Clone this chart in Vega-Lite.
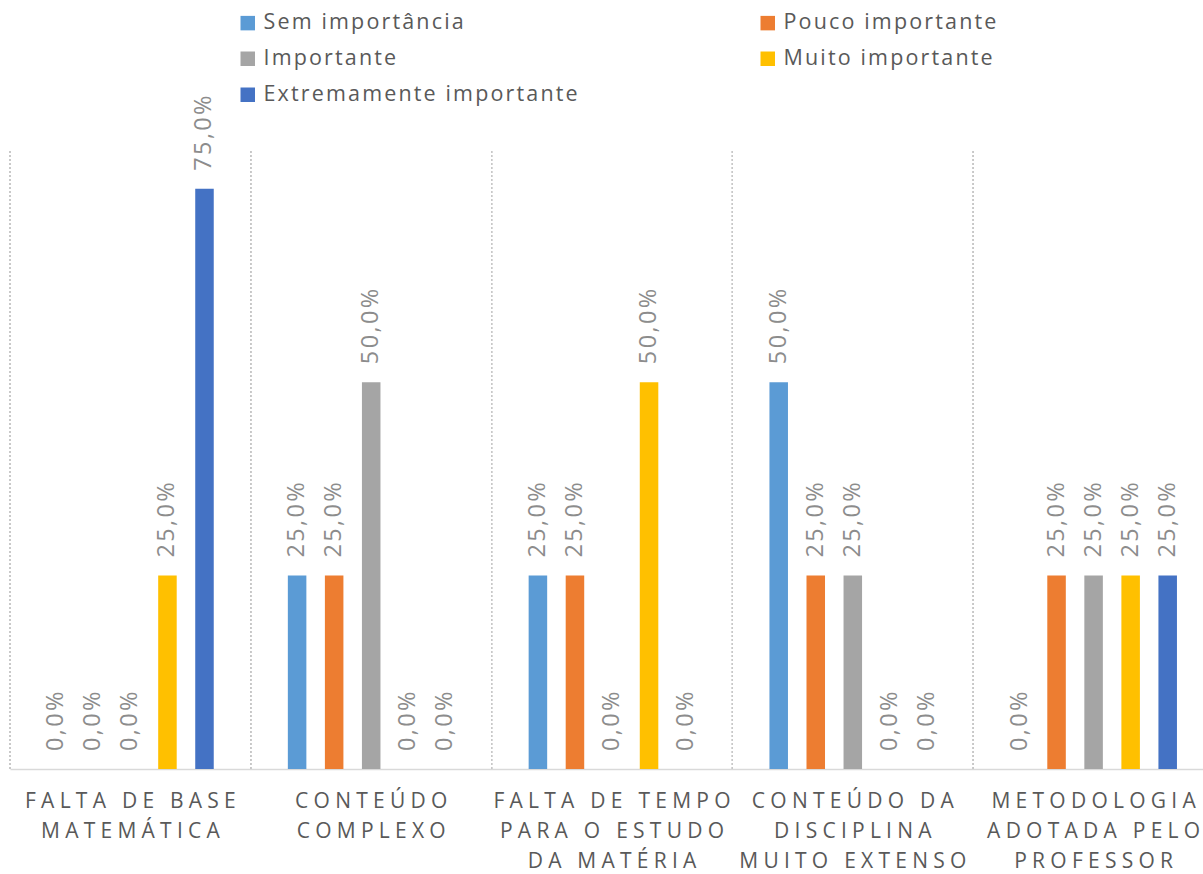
{
  "$schema": "https://vega.github.io/schema/vega-lite/v6.json",
  "autosize": "none",
  "width": 1204,
  "height": 619,
  "padding": {"left": 10, "top": 150, "right": -11, "bottom": 105},
  "background": "white",
  "config": {
    "view": {"stroke": null},
    "font": "Open Sans"
  },
  "data": {
    "values": [
      {"cat": "FALTA DE BASE\nMATEMÁTICA", "level": "Sem importância", "value": 0},
      {"cat": "FALTA DE BASE\nMATEMÁTICA", "level": "Pouco importante", "value": 0},
      {"cat": "FALTA DE BASE\nMATEMÁTICA", "level": "Importante", "value": 0},
      {"cat": "FALTA DE BASE\nMATEMÁTICA", "level": "Muito importante", "value": 0.25},
      {"cat": "FALTA DE BASE\nMATEMÁTICA", "level": "Extremamente importante", "value": 0.75},
      {"cat": "CONTEÚDO\nCOMPLEXO", "level": "Sem importância", "value": 0.25},
      {"cat": "CONTEÚDO\nCOMPLEXO", "level": "Pouco importante", "value": 0.25},
      {"cat": "CONTEÚDO\nCOMPLEXO", "level": "Importante", "value": 0.5},
      {"cat": "CONTEÚDO\nCOMPLEXO", "level": "Muito importante", "value": 0},
      {"cat": "CONTEÚDO\nCOMPLEXO", "level": "Extremamente importante", "value": 0},
      {"cat": "FALTA DE TEMPO\nPARA O ESTUDO\nDA MATÉRIA", "level": "Sem importância", "value": 0.25},
      {"cat": "FALTA DE TEMPO\nPARA O ESTUDO\nDA MATÉRIA", "level": "Pouco importante", "value": 0.25},
      {"cat": "FALTA DE TEMPO\nPARA O ESTUDO\nDA MATÉRIA", "level": "Importante", "value": 0},
      {"cat": "FALTA DE TEMPO\nPARA O ESTUDO\nDA MATÉRIA", "level": "Muito importante", "value": 0.5},
      {"cat": "FALTA DE TEMPO\nPARA O ESTUDO\nDA MATÉRIA", "level": "Extremamente importante", "value": 0},
      {"cat": "CONTEÚDO DA\nDISCIPLINA\nMUITO EXTENSO", "level": "Sem importância", "value": 0.5},
      {"cat": "CONTEÚDO DA\nDISCIPLINA\nMUITO EXTENSO", "level": "Pouco importante", "value": 0.25},
      {"cat": "CONTEÚDO DA\nDISCIPLINA\nMUITO EXTENSO", "level": "Importante", "value": 0.25},
      {"cat": "CONTEÚDO DA\nDISCIPLINA\nMUITO EXTENSO", "level": "Muito importante", "value": 0},
      {"cat": "CONTEÚDO DA\nDISCIPLINA\nMUITO EXTENSO", "level": "Extremamente importante", "value": 0},
      {"cat": "METODOLOGIA\nADOTADA PELO\nPROFESSOR", "level": "Sem importância", "value": 0},
      {"cat": "METODOLOGIA\nADOTADA PELO\nPROFESSOR", "level": "Pouco importante", "value": 0.25},
      {"cat": "METODOLOGIA\nADOTADA PELO\nPROFESSOR", "level": "Importante", "value": 0.25},
      {"cat": "METODOLOGIA\nADOTADA PELO\nPROFESSOR", "level": "Muito importante", "value": 0.25},
      {"cat": "METODOLOGIA\nADOTADA PELO\nPROFESSOR", "level": "Extremamente importante", "value": 0.25}
    ]
  },
  "encoding": {
    "x": {
      "field": "cat",
      "type": "nominal",
      "sort": null,
      "scale": {"paddingInner": 0, "paddingOuter": 0},
      "axis": {
        "title": null,
        "labelAngle": 0,
        "ticks": false,
        "grid": false,
        "domain": true,
        "domainColor": "#d9d9d9",
        "domainWidth": 1.5,
        "labelFont": "Open Sans",
        "labelFontSize": 21,
        "labelColor": "#595959",
        "labelLineHeight": 30,
        "labelPadding": 21,
        "labelLimit": 400,
        "labelExpr": "split(replace(datum.label, regexp('(.)(?=.)', 'g'), '$1\u2005'), '\\n')"
      }
    },
    "y": {
      "field": "value",
      "type": "quantitative",
      "scale": {"domain": [0, 0.8], "nice": false, "zero": true},
      "axis": null
    }
  },
  "layer": [
    {
      "mark": {"type": "rule", "strokeDash": [2, 2], "color": "#c8c8c8", "strokeWidth": 1.2},
      "encoding": {
        "x": {"field": "cat", "type": "nominal", "sort": null, "bandPosition": 0},
        "y": {"datum": 0},
        "y2": {"datum": 0.8}
      }
    },
    {
      "mark": {"type": "bar"},
      "encoding": {
        "xOffset": {
          "field": "level",
          "type": "nominal",
          "sort": null,
          "scale": {"paddingInner": 0.5, "paddingOuter": 1.1}
        },
        "color": {
          "field": "level",
          "type": "nominal",
          "sort": null,
          "scale": {
            "domain": ["Sem importância", "Pouco importante", "Importante", "Muito importante", "Extremamente importante"],
            "range": ["#5B9BD5", "#ED7D31", "#A5A5A5", "#FFC000", "#4472C4"]
          },
          "legend": {
            "title": null,
            "orient": "none",
            "legendX": 227,
            "legendY": -138,
            "direction": "horizontal",
            "columns": 2,
            "columnPadding": 179,
            "rowPadding": 13,
            "symbolType": "square",
            "symbolSize": 210,
            "symbolStrokeWidth": 0,
            "labelFont": "Open Sans",
            "labelFontSize": 21.5,
            "labelColor": "#595959",
            "labelOffset": 5,
            "labelLimit": 400,
            "labelExpr": "replace(datum.label, regexp('(.)(?=.)', 'g'), '$1\u200a')"
          }
        }
      }
    },
    {
      "mark": {
        "type": "text",
        "angle": 270,
        "align": "left",
        "baseline": "middle",
        "dx": 18,
        "font": "Open Sans",
        "fontSize": 23.5,
        "color": "#8c8c8c",
        "text": {"expr": "replace(replace(format(datum.value, '.1%'), '.', ','), regexp('(.)(?=.)', 'g'), '$1\u200a')"}
      },
      "encoding": {
        "xOffset": {
          "field": "level",
          "type": "nominal",
          "sort": null,
          "scale": {"paddingInner": 0.5, "paddingOuter": 1.1}
        }
      }
    }
  ]
}
